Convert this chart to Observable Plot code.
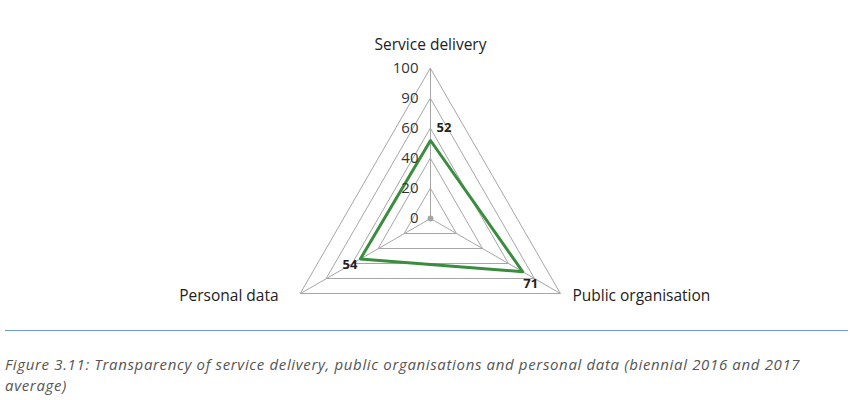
<!DOCTYPE html>
<html>
<head>
<meta charset="utf-8">
<script src="https://cdn.jsdelivr.net/npm/d3@7"></script>
<script src="https://cdn.jsdelivr.net/npm/@observablehq/plot@0.6"></script>
<style>
  html, body { margin: 0; padding: 0; background: #fff; }
  body { width: 854px; height: 400px; overflow: hidden; font-family: "Open Sans", sans-serif; }
  #rule { position: absolute; left: 5px; top: 330px; width: 843px; height: 0; border-top: 1.5px solid #6f9ad6; }
  #caption { position: absolute; left: 5px; top: 354px; font-style: italic; font-size: 15px; color: #555; line-height: 21px; letter-spacing: 0.65px; white-space: nowrap; }
  #chart { position: absolute; left: 0; top: 0; }
</style>
</head>
<body>
<div id="chart"></div>
<div id="rule"></div>
<div id="caption">Figure 3.11: Transparency of service delivery, public organisations and personal data (biennial 2016 and 2017<br>average)</div>
<script>
// Data
const axes = ["Service delivery", "Public organisation", "Personal data"];
const values = [52, 71, 54];
const gridLevels = [20, 40, 60, 80, 100];
const tickValues = [0, 20, 40, 60, 80, 100];
const tickLabels = ["0", "20", "40", "60", "90", "100"];

const n = axes.length;
const ang = i => (i * 2 * Math.PI) / n; // clockwise from top
const px = (v, i) => v * Math.sin(ang(i));
const py = (v, i) => v * Math.cos(ang(i));

const grid = gridLevels.flatMap(l => axes.map((a, i) => ({level: l, x: px(l, i), y: py(l, i)})));
const spokes = axes.map((a, i) => ({x1: 0, y1: 0, x2: px(100, i), y2: py(100, i)}));
const series = values.map((v, i) => ({axis: axes[i], v, x: px(v, i), y: py(v, i)}));
const ticks = tickValues.map((t, k) => ({x: 0, y: t, label: tickLabels[k]}));
const axisLabels = axes.map((a, i) => ({label: a, x: px(100, i), y: py(100, i)}));

const W = 854, H = 320, cx = 430, cy = 218, k = 1.5;
const chart = Plot.plot({
  width: W, height: H,
  margin: 0,
  x: {domain: [-cx / k, (W - cx) / k], range: [0, W], axis: null},
  y: {domain: [-(H - cy) / k, cy / k], range: [H, 0], axis: null},
  style: {fontFamily: "'Open Sans', sans-serif", background: "white"},
  marks: [
    Plot.line(grid, {x: "x", y: "y", z: "level", curve: "linear-closed", stroke: "#a6a6a6", strokeWidth: 1}),
    Plot.link(spokes, {x1: "x1", y1: "y1", x2: "x2", y2: "y2", stroke: "#a6a6a6", strokeWidth: 1}),
    Plot.dot([{x: 0, y: 0}], {x: "x", y: "y", r: 3, fill: "#a6a6a6", stroke: "none"}),
    Plot.line(series, {x: "x", y: "y", curve: "linear-closed", stroke: "#3a8c3e", strokeWidth: 3}),
    Plot.text(ticks, {x: "x", y: "y", text: "label", textAnchor: "end", dx: -12, fontSize: 15, fill: "#333"}),
    Plot.text(series.filter((d, i) => i === 0), {x: "x", y: "y", text: d => String(d.v), dx: 6, dy: -13, textAnchor: "start", fontWeight: "bold", fontSize: 13, fill: "#222"}),
    Plot.text(series.filter((d, i) => i === 1), {x: "x", y: "y", text: d => String(d.v), dx: 8, dy: 12, textAnchor: "middle", fontWeight: "bold", fontSize: 13, fill: "#222"}),
    Plot.text(series.filter((d, i) => i === 2), {x: "x", y: "y", text: d => String(d.v), dx: -3, dy: 6, textAnchor: "end", fontWeight: "bold", fontSize: 13, fill: "#222"}),
    Plot.text(axisLabels.filter((d, i) => i === 0), {x: "x", y: "y", text: "label", dy: -23, textAnchor: "middle", fontSize: 15.5, fill: "#222"}),
    Plot.text(axisLabels.filter((d, i) => i === 1), {x: "x", y: "y", text: "label", dx: 12, dy: 3, textAnchor: "start", fontSize: 15.5, fill: "#222"}),
    Plot.text(axisLabels.filter((d, i) => i === 2), {x: "x", y: "y", text: "label", dx: -22, dy: 3, textAnchor: "end", fontSize: 15.5, fill: "#222"})
  ]
});
document.getElementById("chart").appendChild(chart);
</script>
</body>
</html>
